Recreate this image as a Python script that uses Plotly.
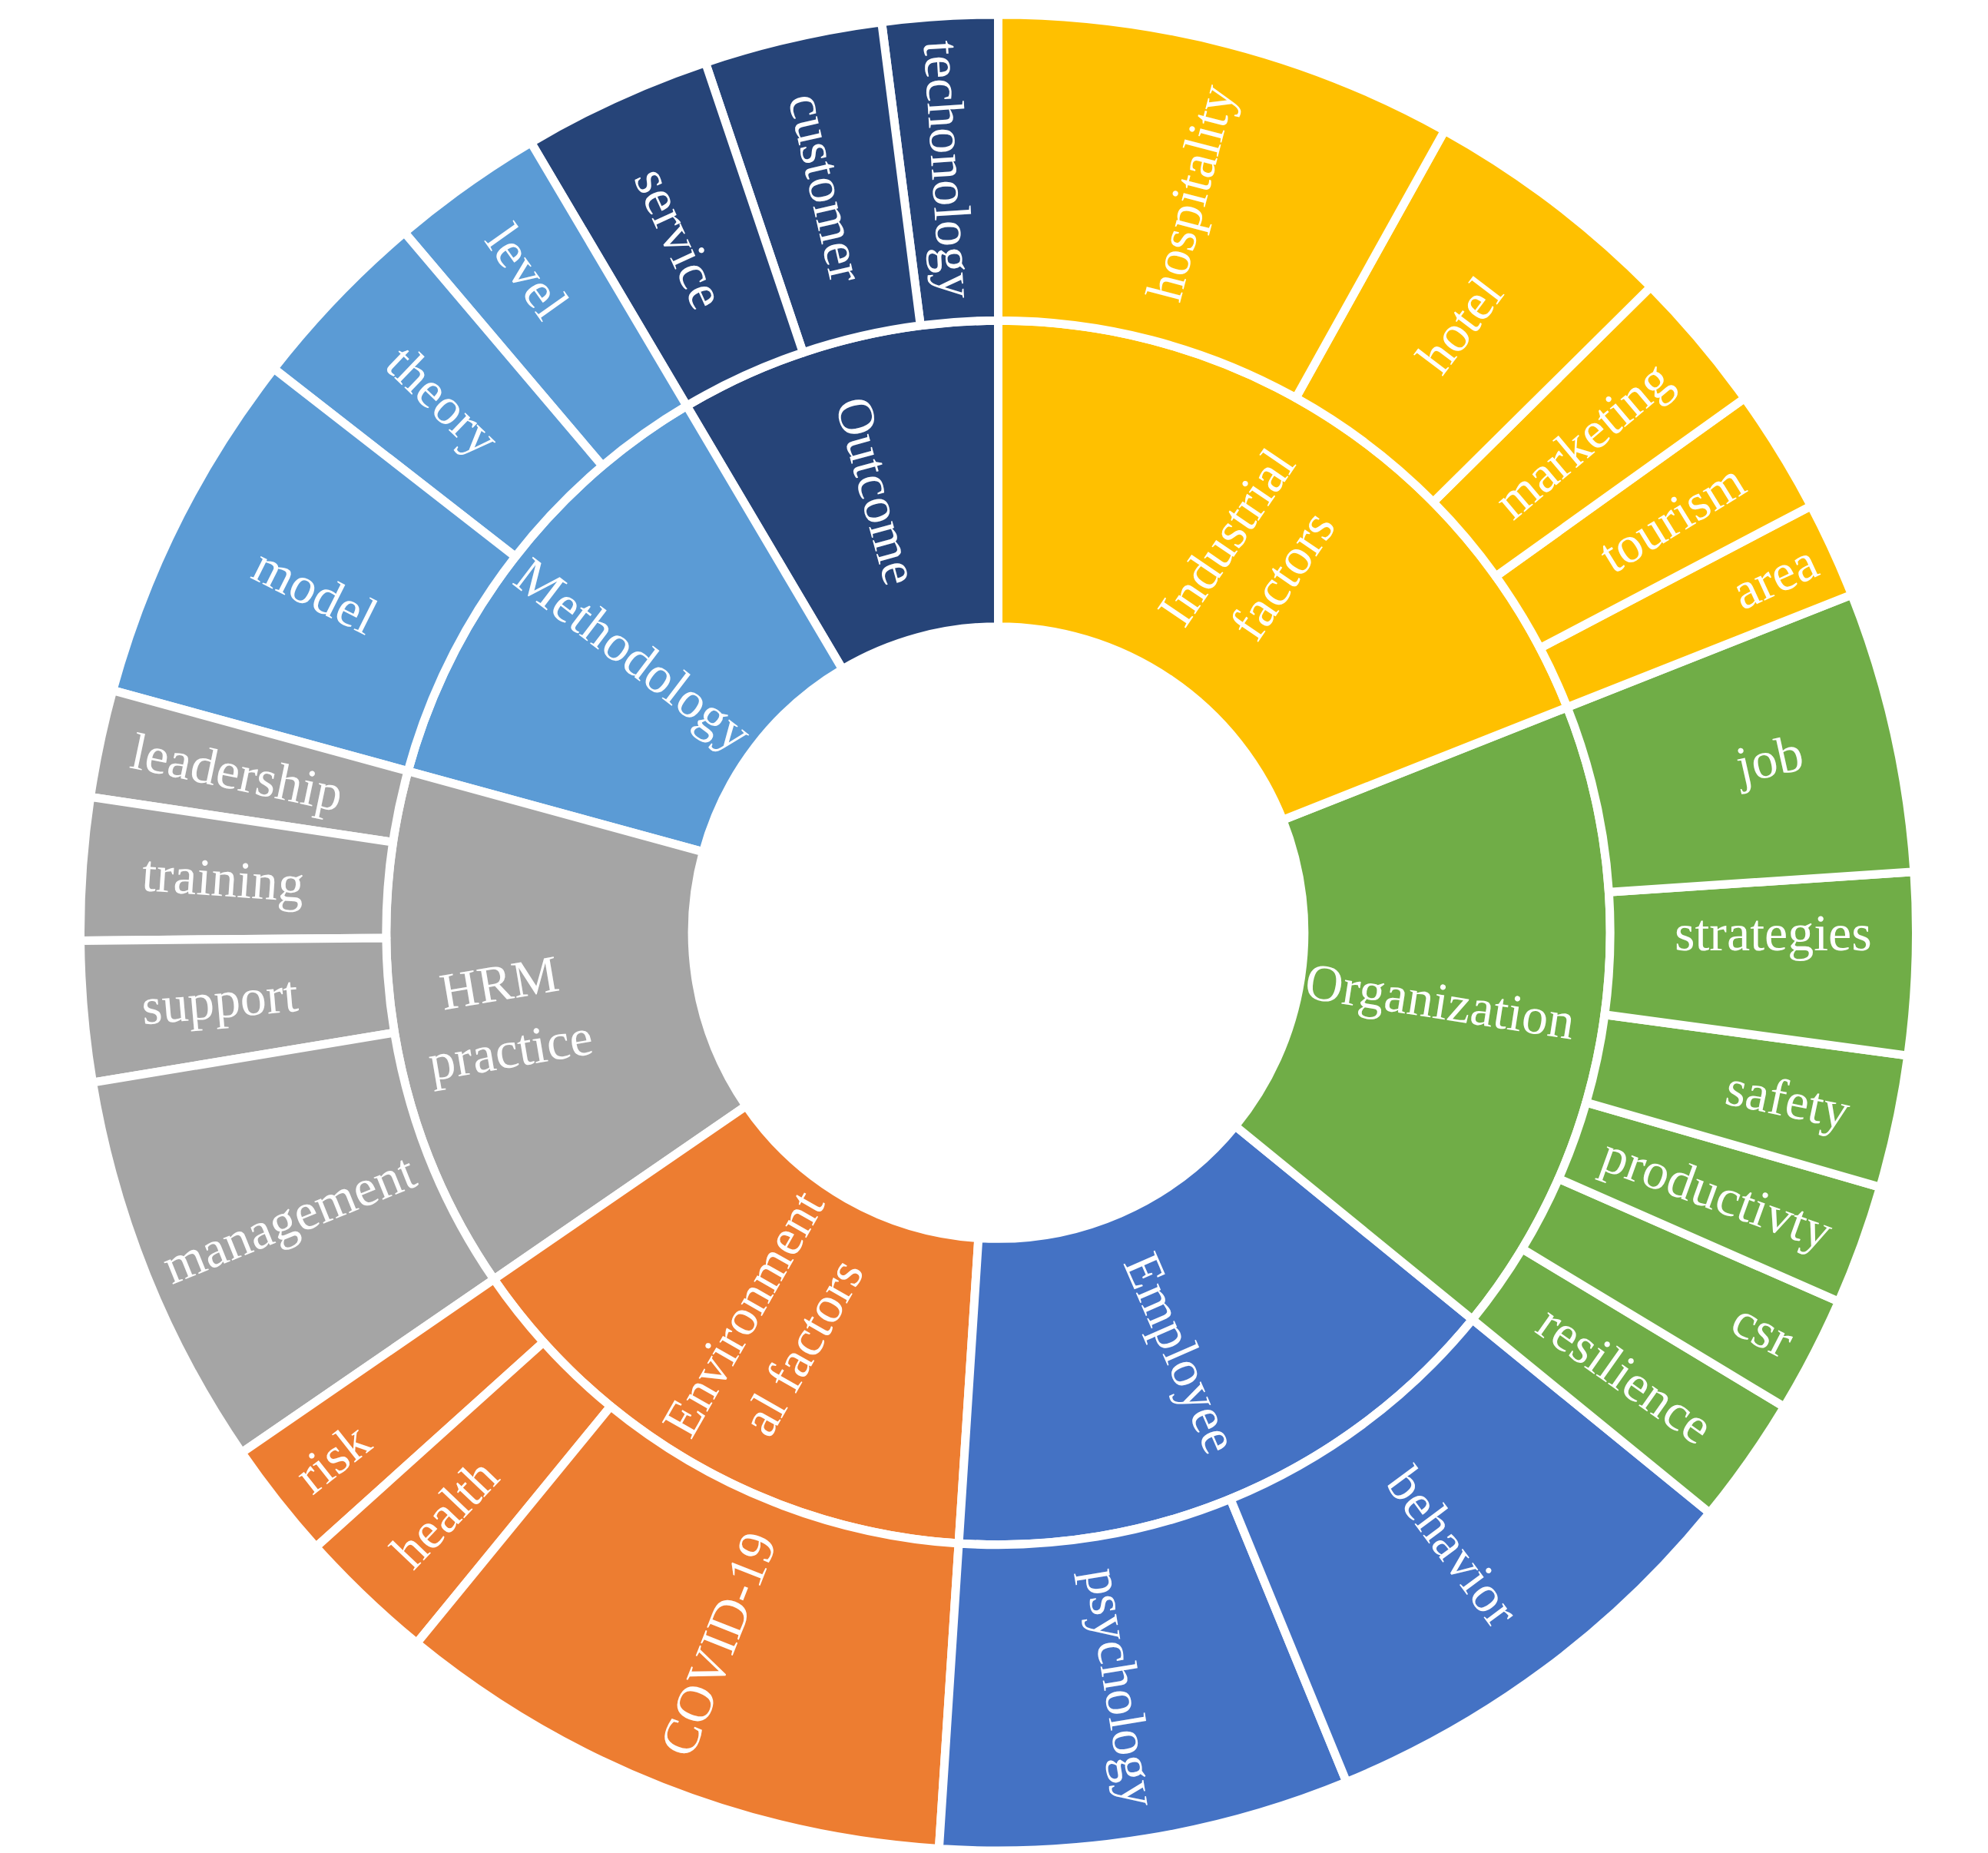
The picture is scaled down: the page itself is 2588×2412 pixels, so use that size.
import plotly.graph_objects as go

# inner ring, listed clockwise from 12 o'clock
groups = ["Industrial factors", "Organization", "Employee", "Environmental factors",
          "HRM practice", "Methodology", "Outcome"]
group_labels = ["Industrial<br>factors", "Organization", "Employee", "Environment<br>al factors",
                "HRM<br>practice", "Methodology", "Outcome"]
group_colors = ["#FFC000", "#70AD47", "#4472C4", "#ED7D31", "#A5A5A5", "#5B9BD5", "#264478"]

# outer ring, per group
industrial_terms = ["hospitality", "hotel", "marketing", "tourism", "area"]
industrial_values = [29.1, 16.2, 9.1, 7.9, 6.1]
organization_terms = ["job", "strategies", "safety", "productivty", "csr", "resilience"]
organization_values = [17.8, 11.5, 8.4, 7.6, 7.4, 8.1]
employee_terms = ["behavior", "psychology"]
employee_values = [28.5, 26.0]
environment_terms = ["COVID-19", "health", "risk"]
environment_values = [35.6, 8.7, 7.5]
hrm_terms = ["management", "support", "training", "leadership"]
hrm_values = [25.1, 8.9, 9.0, 6.8]
method_terms = ["model", "theory", "level"]
method_values = [22.6, 11.8, 9.7]
outcome_terms = ["service", "customer", "techonology"]
outcome_values = [12.0, 11.3, 7.3]

terms = [industrial_terms, organization_terms, employee_terms, environment_terms,
         hrm_terms, method_terms, outcome_terms]
values = [industrial_values, organization_values, employee_values, environment_values,
          hrm_values, method_values, outcome_values]


def padded(label):
    # blank lines around the label keep plotly from parking the text
    # horizontally at 3/9 o'clock, so it stays radial at the slice middle
    pad = "&nbsp;<br>&nbsp;<br>"
    return pad + label + "<br>&nbsp;<br>&nbsp;"


# sunburst lays slices out counterclockwise, so feed everything reversed
ids, labels, texts, parents, vals, colors = ["root"], [""], [""], [""], [0.0], ["white"]
for g, gl, gc, ts, vs in reversed(list(zip(groups, group_labels, group_colors, terms, values))):
    ids.append(g)
    labels.append(g)
    texts.append(padded(gl) if g in ("Organization", "HRM practice") else gl)
    parents.append("root")
    vals.append(sum(vs))
    colors.append(gc)
    for t, v in reversed(list(zip(ts, vs))):
        ids.append(g + "/" + t)
        labels.append(t)
        texts.append(t)
        parents.append(g)
        vals.append(v)
        colors.append(gc)
vals[0] = sum(sum(vs) for vs in values)

fig = go.Figure(go.Sunburst(
    ids=ids,
    labels=labels,
    parents=parents,
    values=vals,
    text=texts,
    textinfo="text",
    branchvalues="total",
    sort=False,
    rotation=90,
    marker=dict(colors=colors, line=dict(color="white", width=11)),
    leaf=dict(opacity=1),
    insidetextorientation="radial",
    textfont=dict(family="Liberation Serif", size=68, color="white"),
    hoverinfo="none",
))

fig.update_layout(
    width=2588,
    height=2412,
    margin=dict(l=96, r=101, t=11, b=11),
    paper_bgcolor="white",
    uniformtext=dict(minsize=68, mode="show"),
)

fig.write_html("out.html")
